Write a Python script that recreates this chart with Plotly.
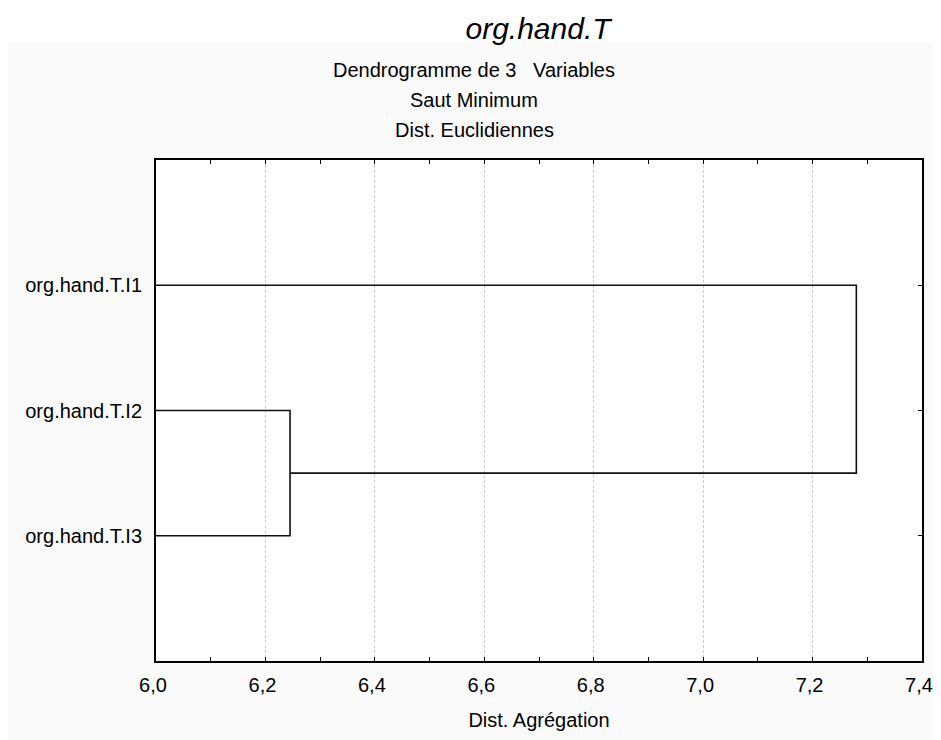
import plotly.graph_objects as go

# ---- data ----
leaf_labels = ["org.hand.T.I1", "org.hand.T.I2", "org.hand.T.I3"]
leaf_positions = [1, 2, 3]
merge_I2_I3 = 6.245          # aggregation distance of I2 + I3
merge_all = 7.28             # aggregation distance of I1 + (I2,I3)
x_min, x_max = 6.0, 7.4
x_tick_step = 0.2

title_text = "<i>org.hand.T</i>"
subtitles = ["Dendrogramme de 3   Variables", "Saut Minimum", "Dist. Euclidiennes"]
x_title = "Dist. Agrégation"

FONT = "Liberation Sans, Arial, sans-serif"

# ---- dendrogram paths built from the data ----
y_I1, y_I2, y_I3 = leaf_positions
y_mid = (y_I2 + y_I3) / 2

path1_x = [x_min, merge_I2_I3, merge_I2_I3, x_min]
path1_y = [y_I2, y_I2, y_I3, y_I3]
path2_x = [x_min, merge_all, merge_all, merge_I2_I3]
path2_y = [y_I1, y_I1, y_mid, y_mid]

fig = go.Figure()
for xs, ys in [(path1_x, path1_y), (path2_x, path2_y)]:
    fig.add_trace(go.Scatter(x=xs, y=ys, mode="lines",
                             line=dict(color="#111111", width=1.6),
                             showlegend=False, hoverinfo="skip"))

# figure coordinates (page has an 8px body margin)
W, H = 933, 732
L, R, T, B = 148, 19, 152, 79
pw, ph = W - L - R, H - T - B

def px_to_paper_x(px):
    return (px - L) / pw

def px_to_paper_y(py):
    return (H - B - py) / ph

# white strip above the light-gray panel
shapes = [
    dict(type="rect", xref="paper", yref="paper", layer="below",
         x0=px_to_paper_x(-5), x1=px_to_paper_x(W + 5),
         y0=px_to_paper_y(34), y1=px_to_paper_y(-5),
         fillcolor="white", line=dict(width=0)),
]

annotations = []
for i, s in enumerate(subtitles):
    annotations.append(dict(text=s, xref="paper", yref="paper",
                            x=px_to_paper_x(466), y=px_to_paper_y(62 + 30 * i),
                            xanchor="center", yanchor="middle", showarrow=False,
                            font=dict(family=FONT, size=20, color="black")))

fig.update_layout(
    width=W, height=H,
    margin=dict(l=L, r=R, t=T, b=B, autoexpand=False),
    paper_bgcolor="#FAFAFA",
    plot_bgcolor="white",
    separators=", ",
    title=dict(text=title_text, x=530 / W, y=1 - 20 / H,
               xanchor="center", yanchor="middle",
               font=dict(family=FONT, size=30, color="black")),
    shapes=shapes,
    annotations=annotations,
    font=dict(family=FONT, size=20, color="black"),
)

fig.update_xaxes(
    range=[x_min, x_max], dtick=x_tick_step, tick0=x_min, tickformat=".1f",
    showline=True, linecolor="black", linewidth=2, mirror="allticks",
    ticks="inside", ticklen=4, tickcolor="black", automargin=False,
    minor=dict(dtick=0.1, ticks="inside", ticklen=4, tickcolor="black", showgrid=False),
    showgrid=True, gridcolor="#CCCCCC", griddash="3px,2px", gridwidth=1,
    zeroline=False, ticklabelstandoff=5, ticklabelshift=-3,
    title=dict(text=x_title, standoff=18, font=dict(family=FONT, size=20)),
    tickfont=dict(family=FONT, size=20),
)
fig.update_yaxes(
    range=[4, 0], tickvals=leaf_positions, ticktext=leaf_labels,
    showline=True, linecolor="black", linewidth=2, mirror="allticks",
    ticks="inside", ticklen=4, tickcolor="black", automargin=False,
    showgrid=False, zeroline=False, ticklabelstandoff=8,
    tickfont=dict(family=FONT, size=20),
)

fig.write_html("out.html")
